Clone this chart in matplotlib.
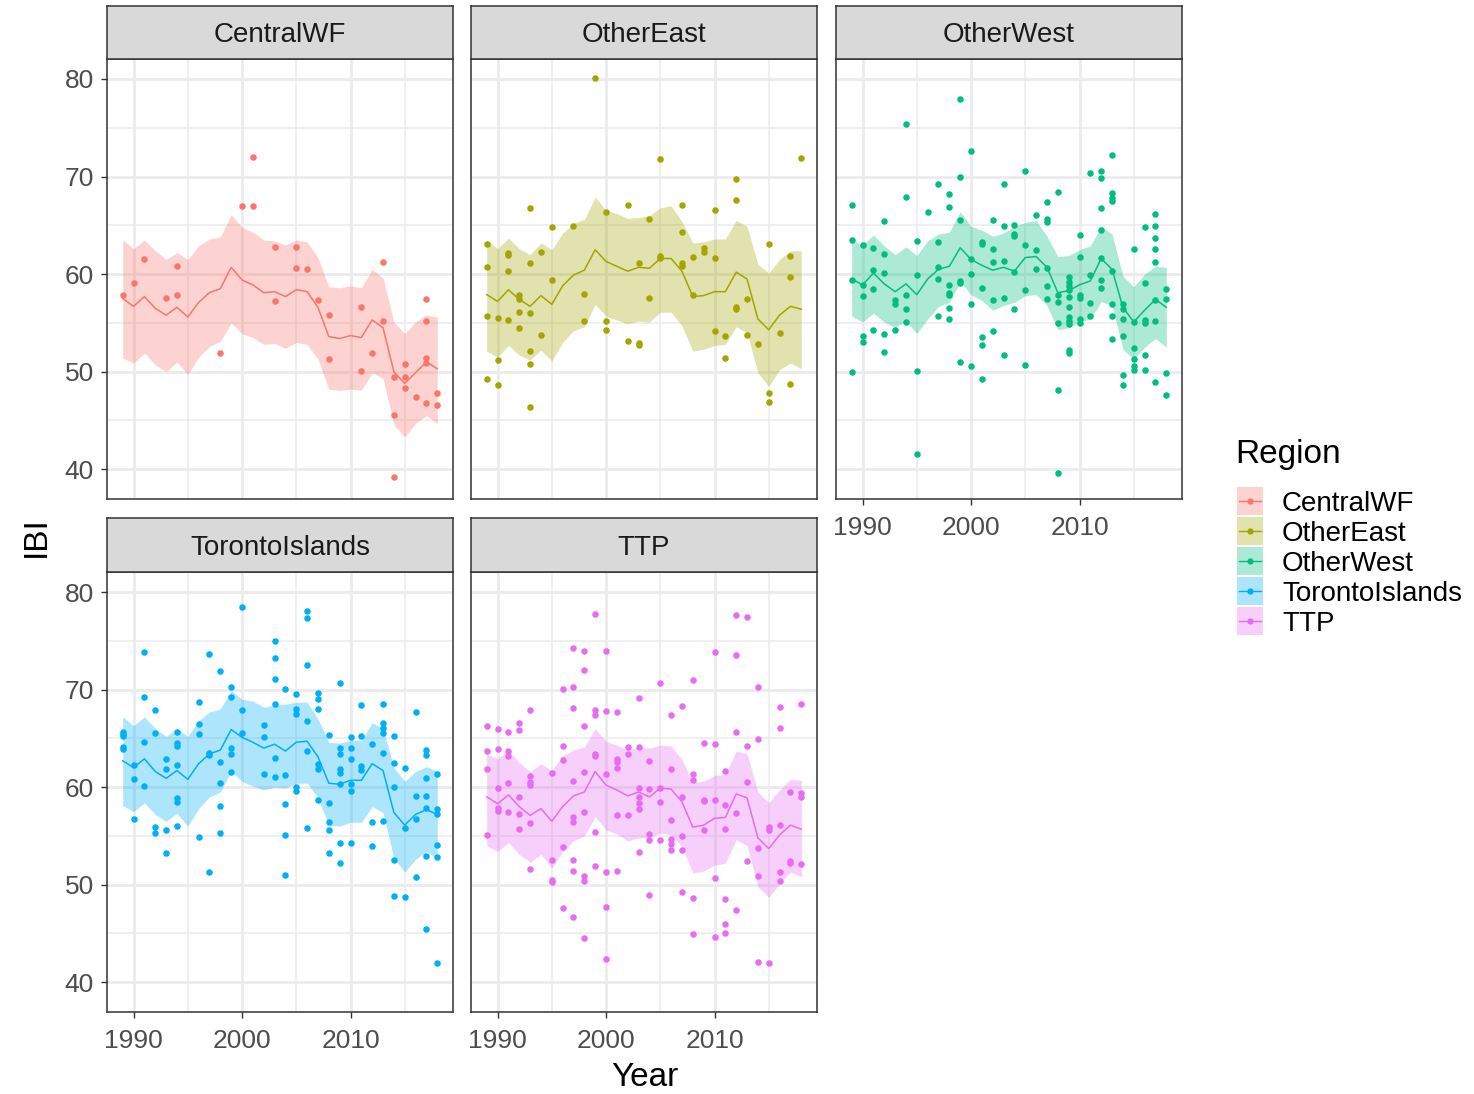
import matplotlib
matplotlib.use("Agg")
import matplotlib.pyplot as plt
from matplotlib.patches import Rectangle
from matplotlib.lines import Line2D

plt.rcParams['font.family'] = ['Liberation Sans', 'DejaVu Sans']

# ---------------- data ----------------
years = [1989, 1990, 1991, 1992, 1993, 1994, 1995, 1996, 1997, 1998,
         1999, 2000, 2001, 2002, 2003, 2004, 2005, 2006, 2007, 2008,
         2009, 2010, 2011, 2012, 2013, 2014, 2015, 2016, 2017, 2018]

regions = ["CentralWF", "OtherEast", "OtherWest", "TorontoIslands", "TTP"]
colors = ["#F8766D", "#A3A500", "#00BF7D", "#00B0F6", "#E76BF3"]

cwf_mean = [57.5, 56.7, 57.7, 56.5, 55.8, 56.6, 55.6, 57.1, 58.1, 58.5, 60.7, 59.4, 58.9, 58.1, 58.2,
            57.7, 58.4, 58.2, 56.6, 53.6, 53.4, 53.7, 53.5, 55.3, 54.5, 50.0, 48.8, 49.9, 51.0, 50.3]
cwf_hi = [63.5, 62.6, 63.5, 62.4, 61.5, 62.2, 61.5, 62.9, 63.6, 63.8, 66.1, 64.8, 64.3, 63.5, 63.4,
          63.0, 63.5, 63.3, 61.7, 58.7, 58.6, 58.8, 58.6, 60.5, 59.6, 55.1, 53.9, 55.1, 55.8, 55.6]
cwf_lo = [51.4, 50.9, 51.9, 50.7, 50.0, 51.0, 49.7, 51.5, 52.6, 53.1, 55.0, 53.9, 53.5, 52.8, 52.9,
          52.4, 53.0, 52.8, 51.3, 48.2, 48.1, 48.2, 48.1, 49.9, 49.3, 44.6, 43.3, 44.7, 45.5, 44.7]

oe_mean = [57.9, 57.2, 58.4, 57.4, 56.7, 57.8, 56.9, 58.8, 59.9, 60.4, 62.5, 61.3, 60.8, 60.3, 60.7,
           60.6, 61.6, 61.6, 60.3, 57.7, 57.8, 58.2, 58.2, 60.2, 59.5, 55.4, 54.3, 55.8, 56.7, 56.4]
oe_hi = [63.5, 62.6, 63.7, 62.6, 62.0, 63.2, 62.5, 64.2, 65.2, 65.6, 67.9, 66.5, 66.2, 65.7, 65.8,
         66.0, 66.8, 67.0, 65.4, 63.2, 63.3, 63.6, 63.6, 65.5, 64.9, 61.0, 60.1, 61.5, 62.4, 62.4]
oe_lo = [52.1, 51.5, 52.7, 51.7, 51.2, 52.2, 51.1, 53.0, 54.2, 54.6, 56.9, 55.7, 55.3, 54.9, 55.2,
         55.1, 56.1, 56.1, 54.7, 52.1, 52.3, 52.7, 52.8, 54.6, 54.0, 49.9, 48.5, 50.2, 50.9, 50.3]

ow_mean = [59.5, 58.9, 60.1, 59.0, 58.2, 59.0, 57.9, 59.5, 60.5, 60.8, 62.7, 61.5, 60.9, 60.4, 60.7,
           60.3, 61.7, 61.8, 60.7, 58.1, 58.3, 58.9, 59.3, 61.6, 60.5, 56.6, 55.1, 56.3, 57.4, 56.6]
ow_hi = [63.5, 63.0, 64.0, 62.9, 62.0, 62.8, 61.9, 63.4, 64.1, 64.3, 66.4, 64.9, 64.5, 63.9, 64.2,
         64.9, 65.3, 65.5, 63.9, 61.8, 61.9, 62.5, 62.9, 64.9, 64.1, 59.8, 58.7, 60.0, 60.8, 60.7]
ow_lo = [55.7, 55.1, 56.0, 55.1, 54.5, 55.2, 53.9, 55.4, 56.7, 57.1, 59.2, 57.9, 57.3, 56.3, 56.8,
         57.1, 57.8, 57.9, 56.8, 54.3, 54.5, 55.1, 55.4, 57.2, 56.8, 52.3, 51.3, 52.5, 53.4, 52.5]

ti_mean = [62.7, 62.0, 62.9, 61.6, 60.9, 61.7, 60.8, 62.4, 63.4, 63.8, 65.9, 65.1, 64.6, 64.0, 64.4,
           63.7, 64.6, 64.7, 63.1, 60.4, 60.3, 60.7, 60.7, 62.4, 61.7, 57.4, 56.1, 57.2, 57.7, 57.2]
ti_hi = [67.2, 66.3, 67.2, 66.0, 65.2, 66.0, 65.2, 66.8, 67.7, 68.0, 69.9, 69.0, 68.8, 68.2, 68.4,
         68.5, 68.7, 68.7, 67.0, 64.6, 64.5, 64.8, 64.8, 66.6, 66.0, 62.0, 60.6, 61.6, 62.1, 61.6]
ti_lo = [58.1, 57.5, 58.4, 57.2, 56.5, 57.3, 56.0, 57.8, 59.0, 59.5, 61.6, 60.6, 60.1, 59.7, 60.0,
         59.9, 60.4, 60.4, 58.9, 56.1, 56.0, 56.4, 56.4, 58.0, 57.4, 52.7, 51.3, 52.6, 53.4, 52.7]

ttp_mean = [59.0, 58.3, 59.2, 58.0, 57.1, 57.8, 56.5, 58.0, 59.1, 59.5, 61.6, 60.2, 59.7, 59.1, 59.5,
            59.0, 59.9, 59.8, 58.5, 55.9, 56.1, 56.8, 56.9, 59.3, 58.9, 54.8, 53.7, 55.1, 56.1, 55.7]
ttp_hi = [63.4, 62.9, 63.8, 62.5, 61.6, 62.4, 61.7, 63.2, 63.8, 64.1, 66.0, 64.7, 64.3, 63.8, 64.1,
          64.0, 64.3, 64.2, 62.8, 60.5, 60.6, 61.2, 61.3, 63.7, 63.4, 59.5, 58.4, 59.7, 60.8, 60.7]
ttp_lo = [54.0, 53.4, 54.3, 53.1, 52.3, 53.1, 51.7, 53.4, 54.5, 55.0, 57.0, 55.6, 55.2, 54.5, 54.8,
          54.8, 55.3, 55.1, 53.9, 51.2, 51.4, 52.0, 52.2, 54.6, 54.0, 49.8, 48.7, 50.1, 51.3, 50.8]

# observed site values, by year
cwf_pts = {
    1989: [57.9], 1990: [59.1], 1991: [61.5], 1993: [57.6], 1994: [60.8, 57.9],
    1998: [51.9], 2000: [67.0], 2001: [72.0, 67.0], 2003: [62.8, 57.2],
    2005: [62.8, 60.6], 2006: [60.5], 2007: [57.3], 2008: [55.8, 51.3],
    2011: [56.6, 50.1], 2012: [51.9], 2013: [61.2, 55.2], 2014: [49.5, 45.6, 39.2],
    2015: [50.8, 49.5, 48.3], 2016: [47.4], 2017: [57.4, 55.2, 51.4, 50.9, 46.8],
    2018: [47.8, 46.6],
}
oe_pts = {
    1989: [63.1, 60.7, 55.7, 49.3], 1990: [55.5, 51.2, 48.6], 1991: [62.2, 62.0, 60.3, 55.3],
    1992: [57.9, 57.5, 56.1, 54.5], 1993: [66.8, 61.1, 56.0, 52.1, 50.8, 46.4],
    1994: [62.3, 53.8], 1995: [64.8, 59.4], 1997: [64.9], 1998: [58.0, 55.2], 1999: [80.1],
    2000: [66.4, 55.2, 54.3], 2002: [67.1, 53.1], 2003: [61.1, 52.9, 52.7], 2004: [65.7, 57.6],
    2005: [71.8, 61.9, 61.7], 2007: [67.1, 64.3, 61.1, 60.8], 2008: [61.8, 57.9],
    2009: [62.7, 62.3], 2010: [66.6, 61.7, 54.2], 2011: [53.7, 51.4],
    2012: [69.7, 67.6, 56.6, 56.4], 2013: [57.4, 53.8], 2014: [52.8],
    2015: [63.1, 47.8, 46.9], 2016: [54.0], 2017: [61.9, 59.7, 48.7], 2018: [71.9],
}
ow_pts = {
    1989: [67.1, 63.5, 59.4, 50.0], 1990: [63.0, 58.9, 57.8, 53.7, 53.0],
    1991: [62.7, 60.4, 58.5, 54.3], 1992: [65.4, 62.1, 60.1, 53.9, 52.0],
    1993: [57.3, 56.9, 54.3], 1994: [75.4, 67.9, 57.9, 56.4, 55.1],
    1995: [63.4, 59.9, 50.1, 41.6], 1996: [66.4], 1997: [69.2, 63.3, 60.7, 59.5, 55.7],
    1998: [68.2, 66.9, 58.9, 58.1, 57.9, 56.5, 55.4], 1999: [78.0, 70.0, 65.5, 59.3, 59.1, 51.0],
    2000: [72.6, 61.5, 60.0, 56.9, 50.6], 2001: [63.3, 63.1, 58.6, 53.6, 52.7, 49.3],
    2002: [65.5, 62.6, 61.2, 57.3, 54.2], 2003: [69.2, 64.9, 61.3, 57.6, 51.7],
    2004: [65.0, 64.1, 63.9, 60.2, 56.4], 2005: [70.6, 63.0, 58.4, 50.7],
    2006: [66.1, 62.5, 60.5], 2007: [67.4, 65.6, 65.3, 60.6, 58.8, 57.5],
    2008: [68.4, 57.9, 57.1, 55.0, 48.1, 39.6],
    2009: [59.7, 59.2, 58.8, 58.4, 57.7, 56.6, 55.6, 55.2, 54.9, 52.2, 51.9],
    2010: [64.0, 61.8, 57.9, 57.6, 55.4, 55.0], 2011: [70.4, 59.9, 57.0, 55.7],
    2012: [70.6, 69.9, 66.8, 64.5, 61.7, 59.4, 58.6],
    2013: [72.2, 68.3, 67.8, 67.5, 60.3, 56.9, 55.7, 53.3],
    2014: [56.9, 56.4, 55.4, 53.7, 49.7, 48.6], 2015: [62.6, 55.1, 52.4, 51.3, 50.6, 50.2],
    2016: [64.8, 59.1, 55.3, 55.0, 51.7, 50.2],
    2017: [66.2, 64.9, 63.7, 62.6, 61.2, 57.3, 55.2, 48.9], 2018: [58.5, 57.4, 49.9, 47.6],
}
ti_pts = {
    1989: [65.7, 65.4, 65.2, 64.1, 63.9], 1990: [62.3, 60.8, 56.7], 1991: [73.8, 69.2, 64.6, 60.1],
    1992: [67.9, 65.5, 55.9, 55.3], 1993: [62.9, 61.9, 55.6, 53.2],
    1994: [65.6, 64.5, 64.2, 62.3, 58.9, 58.5, 56.0], 1996: [68.7, 66.5, 65.4, 54.9],
    1997: [73.6, 63.5, 63.3, 51.3], 1998: [71.9, 62.6, 60.4, 58.1, 55.3],
    1999: [70.3, 69.2, 64.0, 63.4, 61.5], 2000: [78.5, 67.9, 65.5], 2002: [66.4, 65.1, 61.3],
    2003: [75.0, 73.2, 71.1, 68.5, 63.0, 61.0], 2004: [70.1, 61.2, 58.3, 55.1, 51.0],
    2005: [69.5, 68.0, 67.5, 60.0, 59.6], 2006: [78.1, 77.3, 72.5, 66.8, 63.7, 55.8],
    2007: [69.6, 69.0, 68.0, 62.4, 61.9, 58.7], 2008: [65.3, 58.4, 56.4, 55.6, 53.2],
    2009: [70.7, 64.0, 63.4, 61.9, 61.4, 60.3, 54.3, 52.2],
    2010: [65.1, 64.0, 62.9, 60.3, 59.6, 54.3], 2011: [68.4, 65.2, 62.2, 61.8],
    2012: [64.4, 56.4, 54.0], 2013: [68.5, 66.6, 66.1, 65.5, 63.5, 56.5],
    2014: [65.2, 62.5, 60.0, 52.5, 48.8], 2015: [62.0, 55.8, 48.7], 2016: [67.7, 59.1, 56.7, 50.8],
    2017: [63.8, 63.3, 60.9, 59.1, 57.9, 52.9, 45.5], 2018: [61.3, 57.8, 57.2, 54.1, 52.8, 42.0],
}
ttp_pts = {
    1989: [66.3, 63.7, 61.9, 55.1], 1990: [66.0, 63.9, 59.9, 57.9, 57.6],
    1991: [65.7, 63.7, 63.2, 60.4, 57.5], 1992: [66.6, 65.9, 59.0, 57.2, 55.7],
    1993: [67.9, 61.1, 60.5, 60.2, 56.3, 51.6], 1995: [61.4, 52.5, 50.5, 50.3],
    1996: [70.1, 64.2, 62.8, 53.9, 47.6],
    1997: [74.3, 70.3, 68.1, 60.6, 56.9, 56.4, 52.5, 51.4, 46.7],
    1998: [74.0, 72.0, 66.3, 61.6, 57.5, 50.9, 50.4, 44.5],
    1999: [77.7, 67.9, 67.4, 63.4, 63.2, 55.4, 51.9], 2000: [74.0, 67.8, 61.3, 51.3, 47.7, 42.4],
    2001: [67.7, 62.9, 62.6, 62.0, 57.1, 51.4], 2002: [64.1, 63.4, 57.1],
    2003: [69.1, 64.1, 59.9, 59.0, 58.4, 57.8, 53.4], 2004: [62.7, 59.8, 55.2, 54.6, 48.9],
    2005: [70.7, 59.9, 58.5, 54.6], 2006: [67.4, 61.9, 56.6, 54.7, 54.2, 53.6],
    2007: [68.3, 59.0, 55.0, 53.6, 49.2], 2008: [71.0, 61.3, 60.7, 48.6, 44.9],
    2009: [64.5, 58.7, 58.6, 55.6], 2010: [73.9, 64.4, 58.7, 50.7, 44.6],
    2011: [61.7, 58.2, 55.7, 48.5, 46.0, 45.0], 2012: [77.6, 73.5, 65.6, 57.3, 47.4],
    2013: [77.4, 64.2, 60.5, 52.4], 2014: [70.3, 64.9, 53.8, 50.9, 42.1],
    2015: [55.9, 55.6, 42.0], 2016: [68.2, 66.1, 56.1, 51.3, 50.4],
    2017: [59.5, 52.4, 52.2], 2018: [68.5, 59.4, 59.0, 52.1],
}

x_ticks = [1990, 2000, 2010]
y_ticks = [40, 50, 60, 70, 80]

# ---------------- layout ----------------
W, H = 1474, 1094
fig = plt.figure(figsize=(W / 100, H / 100), dpi=100)


def box(x0, y0, x1, y1):
    return [x0 / W, 1 - y1 / H, (x1 - x0) / W, (y1 - y0) / H]


panel_boxes = [(107, 59, 453, 499), (471, 59, 817, 499), (836, 59, 1182, 499),
               (107, 572, 453, 1012), (471, 572, 817, 1012)]
strip_boxes = [(107, 6, 453, 59), (471, 6, 817, 59), (836, 6, 1182, 59),
               (107, 518, 453, 572), (471, 518, 817, 572)]
show_x = [False, False, True, True, True]
show_y = [True, False, False, True, False]

series = [
    (cwf_mean, cwf_lo, cwf_hi, cwf_pts),
    (oe_mean, oe_lo, oe_hi, oe_pts),
    (ow_mean, ow_lo, ow_hi, ow_pts),
    (ti_mean, ti_lo, ti_hi, ti_pts),
    (ttp_mean, ttp_lo, ttp_hi, ttp_pts),
]

border = "#333333"
gridc = "#EBEBEB"

for i, name in enumerate(regions):
    col = colors[i]
    mean, lo, hi, pts = series[i]
    ax = fig.add_axes(box(*panel_boxes[i]))
    ax.set_axisbelow(True)
    ax.fill_between(years, lo, hi, color=col, alpha=0.32, lw=0, zorder=2)
    ax.plot(years, mean, color=col, lw=1.1, zorder=3)
    px = [y for y, vals in pts.items() for _ in vals]
    py = [v for vals in pts.values() for v in vals]
    ax.scatter(px, py, s=22, color=col, lw=0, zorder=4)
    ax.set_xlim(1987.55, 2019.45)
    ax.set_ylim(36.95, 82.05)
    ax.set_xticks(x_ticks)
    ax.set_xticks([1995, 2005, 2015], minor=True)
    ax.set_yticks(y_ticks)
    ax.set_yticks([45, 55, 65, 75], minor=True)
    ax.grid(which="major", color=gridc, lw=2.0)
    ax.grid(which="minor", color=gridc, lw=1.1)
    ax.tick_params(which="minor", length=0)
    ax.tick_params(which="major", length=4.5, width=1.0, color=border,
                   labelsize=19, labelcolor="#4D4D4D")
    ax.tick_params(axis="x", pad=8)
    ax.tick_params(axis="y", pad=5)
    if not show_x[i]:
        ax.tick_params(axis="x", length=0, labelbottom=False)
    if not show_y[i]:
        ax.tick_params(axis="y", length=0, labelleft=False)
    for sp in ax.spines.values():
        sp.set_color(border)
        sp.set_linewidth(1.1)

    sax = fig.add_axes(box(*strip_boxes[i]))
    sax.set_facecolor("#D9D9D9")
    sax.set_xticks([])
    sax.set_yticks([])
    for sp in sax.spines.values():
        sp.set_color(border)
        sp.set_linewidth(1.1)
    sax.text(0.5, 0.5, name, ha="center", va="center_baseline", fontsize=20,
             color="#1A1A1A", transform=sax.transAxes)

# ---------------- overlay: axis titles and legend ----------------
ov = fig.add_axes([0, 0, 1, 1], zorder=-1)
ov.set_xlim(0, W)
ov.set_ylim(H, 0)
ov.axis("off")

ov.text(36, 537, "IBI", rotation=90, ha="center", va="center", fontsize=24)
ov.text(645, 1077, "Year", ha="center", va="center", fontsize=24)

ov.text(1235, 454, "Region", ha="left", va="center", fontsize=24)
for k, name in enumerate(regions):
    cy = 501 + 30 * k
    col = colors[k]
    ov.add_patch(Rectangle((1237, cy - 14), 26, 28, facecolor=col, alpha=0.32, lw=0))
    ov.add_line(Line2D([1239, 1261], [cy, cy], color=col, lw=1.0))
    ov.plot([1250], [cy], "o", color=col, ms=4.5, mew=0)
    ov.text(1282, cy, name, ha="left", va="center_baseline", fontsize=20, color="#000000")

fig.savefig("out.png", dpi=100)
